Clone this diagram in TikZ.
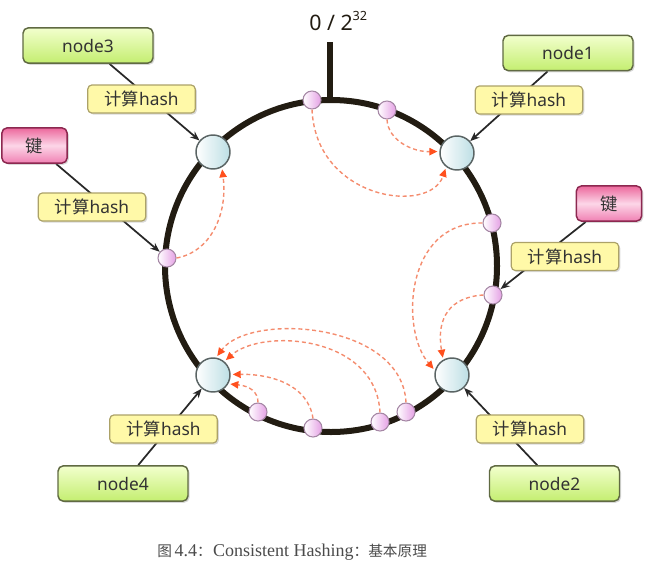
\documentclass[tikz,border=0pt]{standalone}
\usepackage{fontspec}
\setmainfont{Noto Sans}
\newfontfamily\cjk{Noto Sans CJK SC}
\newfontfamily\capfont{Liberation Serif}
\usetikzlibrary{shadows,arrows.meta}
\pgfdeclarelayer{background}
\pgfsetlayers{background,main}
\definecolor{ringc}{RGB}{34,28,18}
\definecolor{bigborder}{RGB}{90,100,100}
\definecolor{bigfill}{RGB}{188,222,228}
\definecolor{pinkborder}{RGB}{165,135,165}
\definecolor{pinkfill}{RGB}{228,160,228}
\definecolor{greenborder}{RGB}{96,106,66}
\definecolor{greentop}{RGB}{242,255,205}
\definecolor{greenbot}{RGB}{196,238,112}
\definecolor{keyborder}{RGB}{140,40,80}
\definecolor{keytop}{RGB}{236,104,156}
\definecolor{keymid}{RGB}{252,214,232}
\definecolor{keybot}{RGB}{240,128,178}
\definecolor{hashfill}{RGB}{255,249,168}
\definecolor{hashborder}{RGB}{172,162,104}
\definecolor{linkc}{RGB}{40,40,40}
\definecolor{dashc}{RGB}{244,140,110}
\definecolor{tipc}{RGB}{255,80,30}
\definecolor{textc}{RGB}{50,50,50}
\definecolor{capc}{RGB}{75,75,75}
\begin{document}
\begin{tikzpicture}[x=0.75pt,y=-0.75pt,
  shadowed/.style={drop shadow={opacity=0.3,shadow xshift=1.2pt,shadow yshift=-1.2pt}},
  bigc/.style={circle,minimum size=25.5pt,inner sep=0pt,draw=bigborder,line width=1.1pt,left color=white,right color=bigfill},
  pinkc/.style={circle,minimum size=13.5pt,inner sep=0pt,draw=pinkborder,line width=0.8pt,left color=white,right color=pinkfill},
  nodebox/.style={rounded corners=4pt,draw=greenborder,line width=1.1pt,top color=greentop,bottom color=greenbot,minimum width=97.5pt,minimum height=26.5pt,inner sep=0pt,font=\fontsize{13}{15}\selectfont,text=textc,shadowed},
  keybox/.style={rounded corners=4pt,draw=keyborder,line width=1.1pt,top color=keytop,bottom color=keybot,middle color=keymid,minimum width=49pt,minimum height=26.5pt,inner sep=0pt,font=\fontsize{13}{15}\selectfont\cjk,text=textc,shadowed},
  hashbox/.style={rounded corners=3pt,draw=hashborder,line width=0.9pt,fill=hashfill,minimum width=80.5pt,minimum height=21pt,inner sep=0pt,font=\fontsize{13}{15}\selectfont,text=textc,shadowed},
  link/.style={draw=linkc,line width=1.3pt,-{Stealth[length=7pt,width=5.5pt]}},
  dasharrow/.style={draw=dashc,line width=1.05pt,dash pattern=on 3pt off 2.2pt,shorten >=1.5pt,-{Triangle[length=6pt,width=5.5pt,color=tipc]}}
]
\useasboundingbox (0,0) rectangle (652,564);

% ring and top tick
\coordinate (ctr) at (331,266);
\draw[ringc,line width=4.5pt] (ctr) circle [radius=124.5pt];
\coordinate (tickTop) at (330,42);
\coordinate (tickBot) at (330,100);
\draw[ringc,line width=3.8pt] (tickTop) -- (tickBot);
\node[anchor=base west,font=\fontsize{16}{18}\selectfont,text=ringc,inner sep=0pt] (zero) at (309,30) {0 / 2\raisebox{0.45em}{\fontsize{9.5}{10}\selectfont 32}};

% server circles on the ring
\node[bigc] (n3) at (213,152) {};
\node[bigc] (n1) at (457,153) {};
\node[bigc] (n2) at (452,375) {};
\node[bigc] (n4) at (213,375) {};

% key circles on the ring
\node[pinkc] (p1) at (312,100) {};
\node[pinkc] (p2) at (387,110) {};
\node[pinkc] (p3) at (492,223) {};
\node[pinkc] (p4) at (493,295) {};
\node[pinkc] (p5) at (406,412) {};
\node[pinkc] (p6) at (380,422) {};
\node[pinkc] (p7) at (313,428) {};
\node[pinkc] (p8) at (258,412) {};
\node[pinkc] (p9) at (167,258) {};

% labelled boxes
\node[nodebox] (b3) at (88,45.5) {node3};
\node[nodebox] (b1) at (568,53) {node1};
\node[nodebox] (b4) at (123,483.5) {node4};
\node[nodebox] (b2) at (554.5,483.5) {node2};
\node[keybox] (kL) at (34.5,145.5) {键};
\node[keybox] (kR) at (609,203.5) {键};
\node[hashbox] (h3) at (141.5,99) {{\cjk 计算}hash};
\node[hashbox] (h1) at (529,100) {{\cjk 计算}hash};
\node[hashbox] (hL) at (92,207) {{\cjk 计算}hash};
\node[hashbox] (hR) at (565,256.5) {{\cjk 计算}hash};
\node[hashbox] (h4) at (163.5,429) {{\cjk 计算}hash};
\node[hashbox] (h2) at (530,429) {{\cjk 计算}hash};

% connectors (behind the hash boxes)
\begin{pgfonlayer}{background}
\draw[link] (b3) -- (n3);
\draw[link] (b1) -- (n1);
\draw[link] (b4) -- (n4);
\draw[link] (b2) -- (n2);
\draw[link] (kL) -- (p9);
\draw[link] (kR) -- (p4);
\end{pgfonlayer}

% key -> server dashed arrows
\draw[dasharrow] (p1.south) .. controls (316,200) and (430,215) .. (n1.232);
\draw[dasharrow] (p2.south) .. controls (388,140) and (412,152) .. (n1.175);
\draw[dasharrow] (p9.east) .. controls (210,252) and (228,215) .. (n3.300);
\draw[dasharrow] (p3.west) .. controls (405,222) and (400,330) .. (n2.165);
\draw[dasharrow] (p4.west) .. controls (450,297) and (436,318) .. (n2.120);
\draw[dasharrow] (p5.north) .. controls (402,322) and (250,312) .. (n4.80);
\draw[dasharrow] (p6.north) .. controls (376,335) and (262,328) .. (n4.50);
\draw[dasharrow] (p7.north) .. controls (308,385) and (272,374) .. (n4.2);
\draw[dasharrow] (p8.north) .. controls (258,392) and (250,386) .. (n4.330);

% caption
\node[anchor=base west,inner sep=0pt,text=capc,font=\capfont\fontsize{13.5}{15}\selectfont] (cap) at (157,556)
  {{\cjk\fontsize{11}{13}\selectfont 图}\hspace{2pt}4.4{\cjk\fontsize{11}{13}\selectfont ：}\hspace{1pt}Consistent Hashing{\cjk\fontsize{11}{13}\selectfont ：基本原理}};
\end{tikzpicture}
\end{document}
